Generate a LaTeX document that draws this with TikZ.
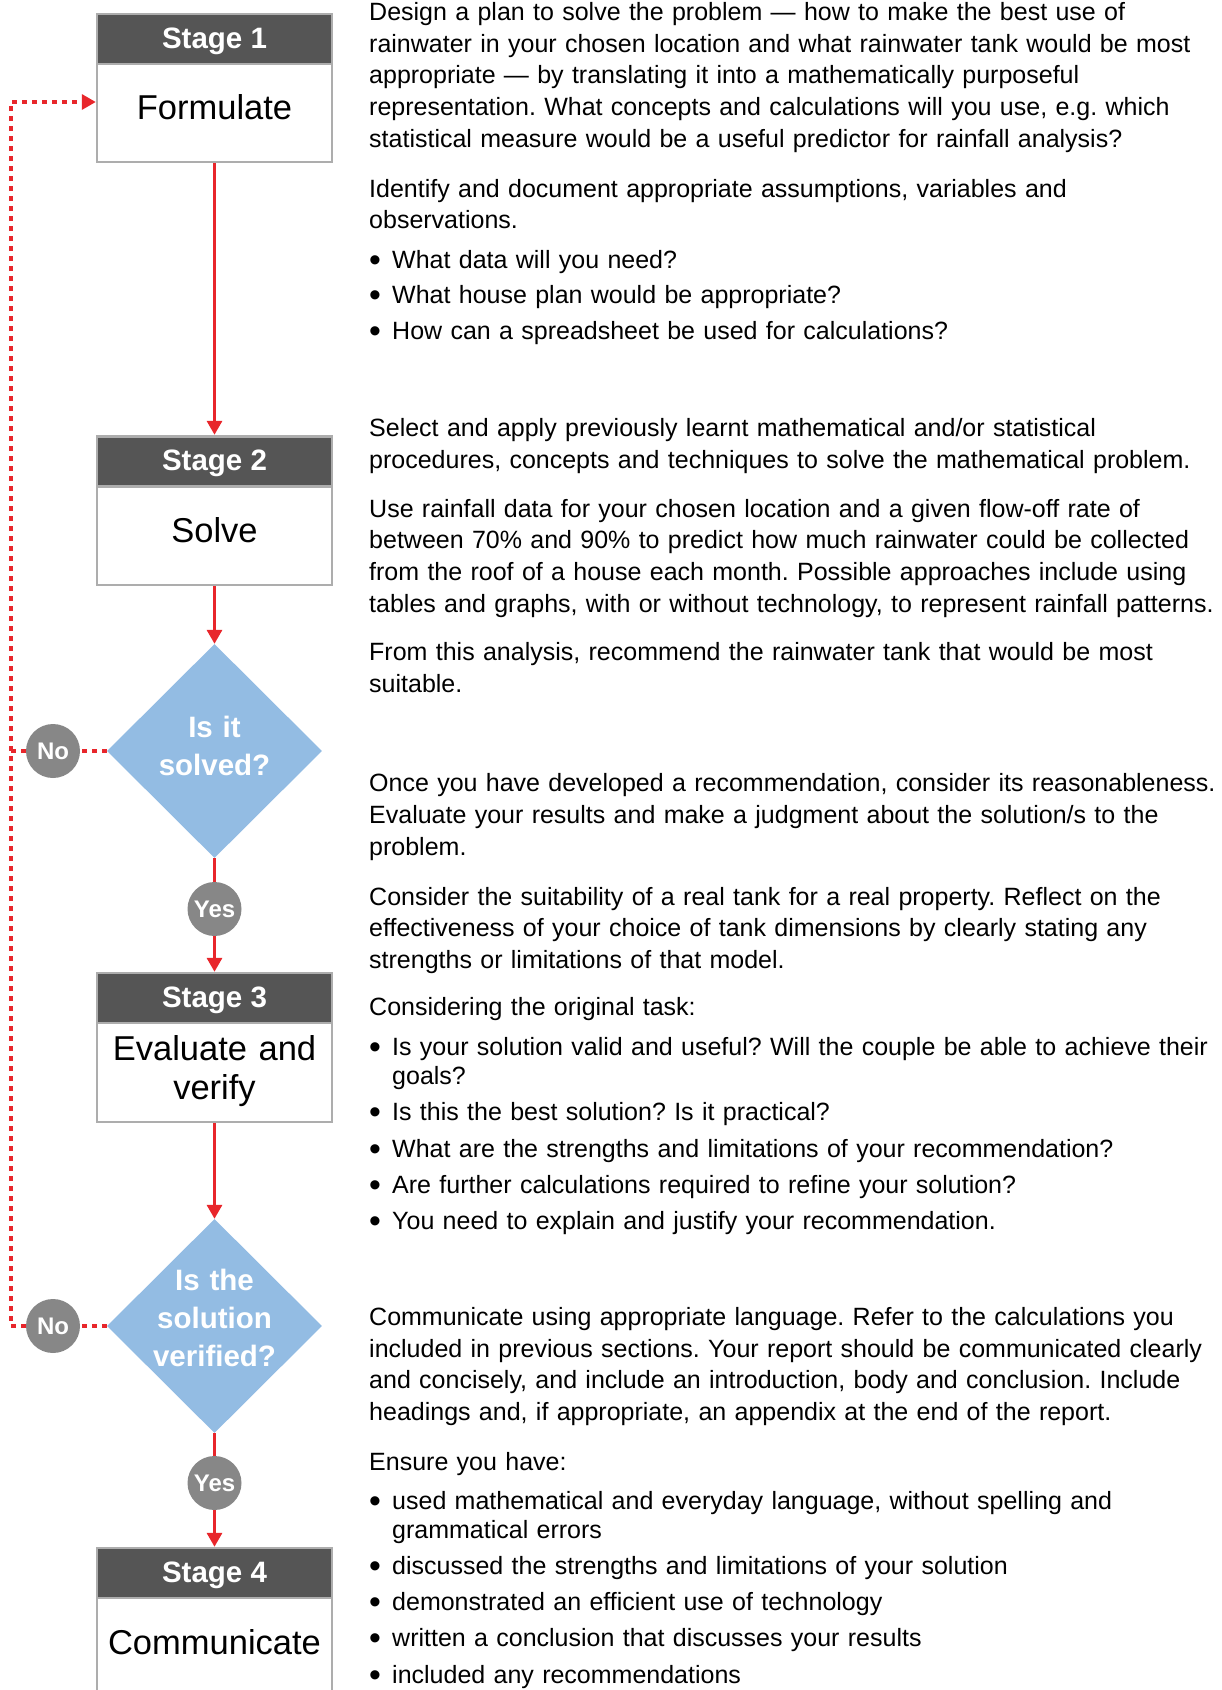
\documentclass[tikz,border=0pt]{standalone}
\usepackage{fontspec}
\setmainfont{Liberation Sans}
\usetikzlibrary{arrows.meta,shapes.geometric}
\definecolor{arrred}{HTML}{E8262B}
\definecolor{hdr}{HTML}{555555}
\definecolor{bord}{HTML}{ADADAD}
\definecolor{dia}{HTML}{93BCE3}
\definecolor{circ}{HTML}{878787}
\newcommand\bitem{\makebox[23pt][l]{\raisebox{-0.12em}{\scalebox{1.35}{•}}}}
\newcommand\bcont{\hspace*{23pt}}
\frenchspacing
\begin{document}
\begin{tikzpicture}[x=1pt,y=-1pt,
  txt/.style={anchor=base west, text width=900pt, align=left, inner sep=0pt, font=\fontsize{25pt}{31.8pt}\selectfont\frenchspacing},
  bul/.style={anchor=base west, text width=900pt, align=left, inner sep=0pt, font=\fontsize{25pt}{28.7pt}\selectfont\frenchspacing},
  stagebox/.style={draw=bord, line width=2.4pt, fill=white, minimum width=235pt, inner sep=0pt, rectangle},
  hdrbox/.style={draw=bord, line width=2.4pt, fill=hdr, minimum width=235pt, minimum height=50pt, inner sep=0pt, rectangle},
  hdrtxt/.style={anchor=base, text=white, font=\fontsize{29.5pt}{35pt}\selectfont\bfseries, inner sep=0pt},
  bodytxt/.style={anchor=base, font=\fontsize{34.5pt}{38.5pt}\selectfont, inner sep=0pt, text width=230pt, align=center},
  decision/.style={diamond, fill=dia, minimum width=215pt, minimum height=214pt, inner sep=0pt, shape aspect=1},
  dectxt/.style={anchor=base, text=white, font=\fontsize{29.5pt}{38.4pt}\selectfont\bfseries, inner sep=0pt, text width=200pt, align=center},
  answer/.style={circle, fill=circ, minimum size=54pt, inner sep=0pt, text=white, font=\fontsize{24pt}{28pt}\selectfont\bfseries},
  flow/.style={draw=arrred, line width=3.2pt},
  flowarr/.style={flow, -{Triangle[length=14pt,width=15pt]}},
  loopline/.style={draw=arrred, line width=3.3pt, dash pattern=on 4.5pt off 5.5pt},
]
\useasboundingbox (0,0) rectangle (1222,1690);

% Stage boxes
\node[stagebox, minimum height=148pt] (s1) at (214.5,88) {};
\node[hdrbox] (h1) at (214.5,39) {};
\node[hdrtxt] (h1t) at (214.5,48.3) {Stage 1};
\node[bodytxt] (b1) at (214.5,119.3) {Formulate};

\node[stagebox, minimum height=149pt] (s2) at (214.5,510.5) {};
\node[hdrbox] (h2) at (214.5,461.5) {};
\node[hdrtxt] (h2t) at (214.5,470.8) {Stage 2};
\node[bodytxt] (b2) at (214.5,542.3) {Solve};

\node[stagebox, minimum height=149pt] (s3) at (214.5,1047.5) {};
\node[hdrbox] (h3) at (214.5,998) {};
\node[hdrtxt] (h3t) at (214.5,1007.3) {Stage 3};
\node[bodytxt] (b3) at (214.5,1060.7) {Evaluate and\\verify};

\node[stagebox, minimum height=152pt] (s4) at (214.5,1624) {};
\node[hdrbox] (h4) at (214.5,1573) {};
\node[hdrtxt] (h4t) at (214.5,1582.3) {Stage 4};
\node[bodytxt] (b4) at (214.5,1654) {Communicate};

% Decisions
\node[decision] (d1) at (214.5,751) {};
\node[dectxt] (d1t) at (214.5,737.3) {Is it\\solved?};
\node[decision] (d2) at (214.5,1326) {};
\node[dectxt] (d2t) at (214.5,1290) {Is the\\solution\\verified?};

% Answers
\node[answer] (y1) at (214.5,909) {Yes};
\node[answer] (n1) at (53,751) {No};
\node[answer] (y2) at (214.5,1483) {Yes};
\node[answer] (n2) at (53,1326) {No};

% Flow connectors
\draw[flowarr] (s1.south) -- (s2.north);
\draw[flowarr] (s2.south) -- (d1.north);
\draw[flow] (d1.south) -- (y1.north);
\draw[flowarr] (y1.south) -- (s3.north);
\draw[flowarr] (s3.south) -- (d2.north);
\draw[flow] (d2.south) -- (y2.north);
\draw[flowarr] (y2.south) -- (s4.north);

% Loop back
\coordinate (loopTop) at (11,102);
\draw[loopline] (d1.west) -- (n1.east);
\draw[loopline] (n1.west) -- (n1.west -| loopTop);
\draw[loopline] (d2.west) -- (n2.east);
\draw[loopline, -{Triangle[length=14pt,width=15pt]}] (n2.west) -- (n2.west -| loopTop) -- (loopTop) -- (loopTop -| s1.west);

% Text block 1
\node[txt] (t1) at (369,20.3) {Design a plan to solve the problem — how to make the best use of\\
rainwater in your chosen location and what rainwater tank would be most\\
appropriate — by translating it into a mathematically purposeful\\
representation. What concepts and calculations will you use, e.g. which\\
statistical measure would be a useful predictor for rainfall analysis?};
\node[txt] (t2) at (369,197.0) {Identify and document appropriate assumptions, variables and\\
observations.};
\node[bul] (t3) at (369,268.1) {\bitem What data will you need?};
\node[bul] (t4) at (369,303.7) {\bitem What house plan would be appropriate?};
\node[bul] (t5) at (369,339.2) {\bitem How can a spreadsheet be used for calculations?};

% Text block 2
\node[txt] (t6) at (369,436.2) {Select and apply previously learnt mathematical and/or statistical\\
procedures, concepts and techniques to solve the mathematical problem.};
\node[txt] (t7) at (369,517.0) {Use rainfall data for your chosen location and a given flow-off rate of\\
between 70\% and 90\% to predict how much rainwater could be collected\\
from the roof of a house each month. Possible approaches include using\\
tables and graphs, with or without technology, to represent rainfall patterns.};
\node[txt] (t8) at (369,660.4) {From this analysis, recommend the rainwater tank that would be most\\
suitable.};

% Text block 3
\node[txt] (t9) at (369,791.8) {Once you have developed a recommendation, consider its reasonableness.\\
Evaluate your results and make a judgment about the solution/s to the\\
problem.};
\node[txt] (t10) at (369,905.0) {Consider the suitability of a real tank for a real property. Reflect on the\\
effectiveness of your choice of tank dimensions by clearly stating any\\
strengths or limitations of that model.};
\node[txt] (t11) at (369,1015) {Considering the original task:};
\node[bul] (t12) at (369,1055.8) {\bitem Is your solution valid and useful? Will the couple be able to achieve their\\ \bcont goals?};
\node[bul] (t13) at (369,1120.5) {\bitem Is this the best solution? Is it practical?};
\node[bul] (t14) at (369,1157.1) {\bitem What are the strengths and limitations of your recommendation?};
\node[bul] (t15) at (369,1193.8) {\bitem Are further calculations required to refine your solution?};
\node[bul] (t16) at (369,1229.3) {\bitem You need to explain and justify your recommendation.};

% Text block 4
\node[txt] (t17) at (369,1325.2) {Communicate using appropriate language. Refer to the calculations you\\
included in previous sections. Your report should be communicated clearly\\
and concisely, and include an introduction, body and conclusion. Include\\
headings and, if appropriate, an appendix at the end of the report.};
\node[txt] (t18) at (369,1470.7) {Ensure you have:};
\node[bul] (t19) at (369,1509.5) {\bitem used mathematical and everyday language, without spelling and\\ \bcont grammatical errors};
\node[bul] (t20) at (369,1574.2) {\bitem discussed the strengths and limitations of your solution};
\node[bul] (t21) at (369,1610.8) {\bitem demonstrated an efficient use of technology};
\node[bul] (t22) at (369,1646.4) {\bitem written a conclusion that discusses your results};
\node[bul] (t23) at (369,1683.0) {\bitem included any recommendations};
\end{tikzpicture}
\end{document}
